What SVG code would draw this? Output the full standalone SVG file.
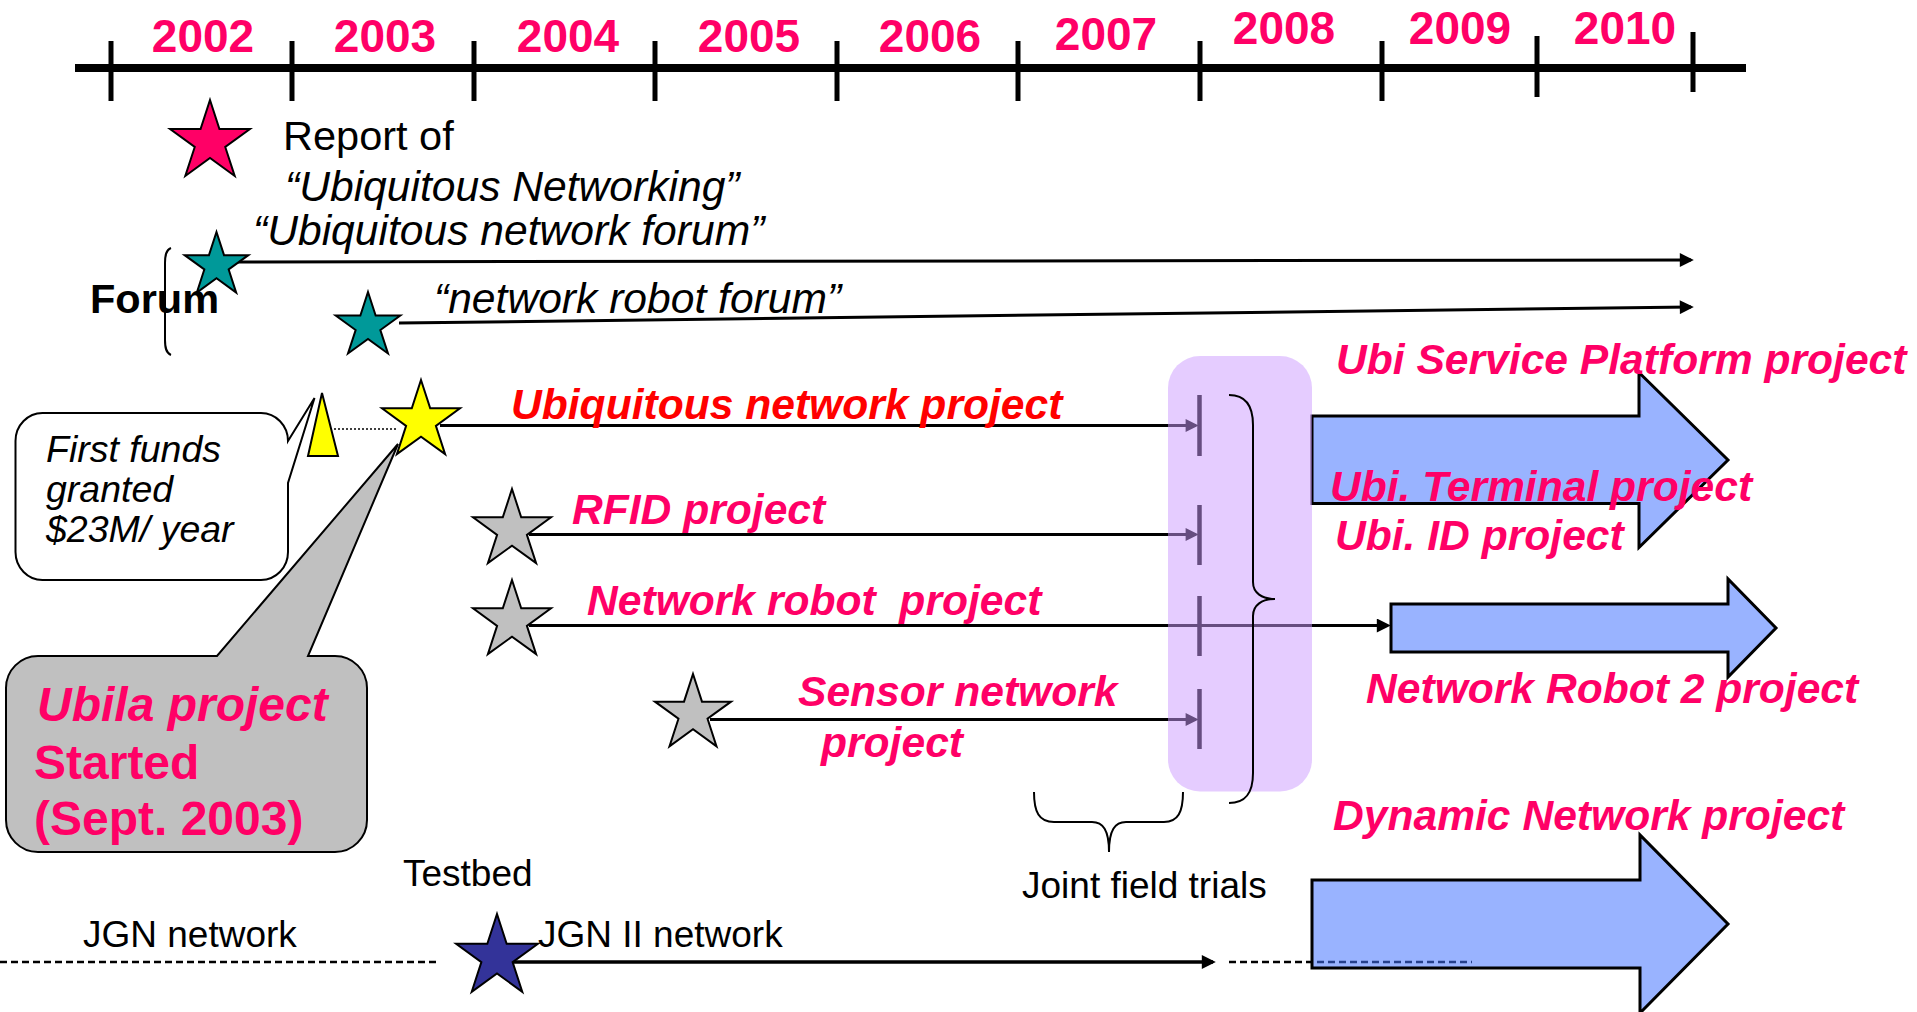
<svg xmlns="http://www.w3.org/2000/svg" width="1917" height="1012" viewBox="0 0 1917 1012">
<style>
.yr{font-family:"Liberation Sans",Arial,sans-serif;font-weight:bold;font-size:46px;fill:#FF0066;text-anchor:middle}
.blk{font-family:"Liberation Sans",Arial,sans-serif;font-size:37px;fill:#000}
.it{font-family:"Liberation Sans",Arial,sans-serif;font-style:italic;font-size:42.6px;fill:#000}
.pk{font-family:"Liberation Sans",Arial,sans-serif;font-style:italic;font-weight:bold;font-size:42.6px;fill:#FF0066}
.ub{font-family:"Liberation Sans",Arial,sans-serif;font-weight:bold;font-size:48px;fill:#FF0066}
.ln{stroke:#000;stroke-width:3;fill:none}
.tk{stroke:#000;stroke-width:5}
.st{stroke:#000;stroke-width:2}
.barrow{fill:rgb(69,116,255);fill-opacity:0.55;stroke:#000;stroke-width:3;stroke-linejoin:miter}
.brace{fill:none;stroke:#000;stroke-width:2}
</style>
<defs>
<path id="star" d="M0,-1 L0.2245,-0.309 L0.9511,-0.309 L0.3633,0.118 L0.5878,0.809 L0,0.382 L-0.5878,0.809 L-0.3633,0.118 L-0.9511,-0.309 L-0.2245,-0.309 Z" vector-effect="non-scaling-stroke"/>
<marker id="arr" viewBox="0 0 10 10" markerUnits="userSpaceOnUse" markerWidth="15" markerHeight="14" refX="8" refY="5" orient="auto">
<path d="M0,0 L10,5 L0,10 Z" fill="#000"/>
</marker>
<marker id="arrs" viewBox="0 0 10 10" markerUnits="userSpaceOnUse" markerWidth="15" markerHeight="13" refX="8" refY="5" orient="auto">
<path d="M0,0 L10,5 L0,10 Z" fill="#000"/>
</marker>
</defs>

<g id="timeline">
<line x1="75" y1="68" x2="1746" y2="68" stroke="#000" stroke-width="8"/>
<line class="tk" x1="111" y1="41" x2="111" y2="101"/>
<line class="tk" x1="292" y1="41" x2="292" y2="101"/>
<line class="tk" x1="474" y1="41" x2="474" y2="101"/>
<line class="tk" x1="655" y1="41" x2="655" y2="101"/>
<line class="tk" x1="837" y1="41" x2="837" y2="101"/>
<line class="tk" x1="1018" y1="41" x2="1018" y2="101"/>
<line class="tk" x1="1200" y1="41" x2="1200" y2="101"/>
<line class="tk" x1="1382" y1="41" x2="1382" y2="101"/>
<line class="tk" x1="1537" y1="36" x2="1537" y2="97"/>
<line class="tk" x1="1693" y1="32" x2="1693" y2="92"/>
<text class="yr" x="203" y="52">2002</text>
<text class="yr" x="385" y="52">2003</text>
<text class="yr" x="568" y="52">2004</text>
<text class="yr" x="749" y="52">2005</text>
<text class="yr" x="930" y="52">2006</text>
<text class="yr" x="1106" y="50">2007</text>
<text class="yr" x="1284" y="44">2008</text>
<text class="yr" x="1460" y="44">2009</text>
<text class="yr" x="1625" y="44">2010</text>
</g>

<g id="connectors">
<line class="ln" x1="232" y1="262" x2="1691" y2="260" marker-end="url(#arr)"/>
<line class="ln" x1="399" y1="323" x2="1691" y2="307" marker-end="url(#arr)"/>
<line x1="322" y1="429" x2="397" y2="429" stroke="#000" stroke-width="1.5" stroke-dasharray="2 2"/>
<line class="ln" x1="440" y1="425.5" x2="1196" y2="425.5" marker-end="url(#arrs)"/>
<line class="ln" x1="529" y1="534.5" x2="1196" y2="534.5" marker-end="url(#arrs)"/>
<line class="ln" x1="529" y1="625.5" x2="1388" y2="625.5" marker-end="url(#arr)"/>
<line class="ln" x1="710" y1="719.5" x2="1196" y2="719.5" marker-end="url(#arrs)"/>
<line x1="1199.5" y1="395" x2="1199.5" y2="456" stroke="#000" stroke-width="4.5"/>
<line x1="1199.5" y1="505" x2="1199.5" y2="565" stroke="#000" stroke-width="4.5"/>
<line x1="1199.5" y1="596" x2="1199.5" y2="656" stroke="#000" stroke-width="4.5"/>
<line x1="1199.5" y1="689" x2="1199.5" y2="749" stroke="#000" stroke-width="4.5"/>
<line x1="0" y1="962" x2="440" y2="962" stroke="#000" stroke-width="2.5" stroke-dasharray="7 4"/>
<line x1="489" y1="962" x2="1213" y2="962" stroke="#000" stroke-width="3.5" marker-end="url(#arr)"/>
<line x1="1229" y1="962" x2="1472" y2="962" stroke="#000" stroke-width="2.5" stroke-dasharray="7 4"/>
</g>

<g id="arrow-ubi-service">
<polygon class="barrow" points="1312,416 1639,416 1639,372.5 1728,460 1639,547.5 1639,503.5 1312,503.5"/>
</g>
<g id="arrow-network-robot-2">
<polygon class="barrow" points="1391,604 1728,604 1728,579 1776,628 1728,677 1728,652 1391,652"/>
</g>
<g id="arrow-dynamic-network">
<polygon class="barrow" points="1312,880 1640,880 1640,835 1728,924 1640,1013 1640,968 1312,968"/>
</g>

<g id="joint-field-trials">
<rect x="1168" y="356" width="144" height="435.5" rx="32" ry="32" fill="#CC99FF" fill-opacity="0.5"/>
<path class="brace" d="M1229,395 C1245,395 1253,405 1253,425 L1253,582 C1253,593 1262,599 1275,599 C1262,599 1253,605 1253,616 L1253,773 C1253,794 1245,803 1229,803"/>
<path class="brace" d="M1034,792 C1034,812 1039,822 1054,822 L1092,822 C1103,822 1109,830 1109,852 C1109,830 1115,822 1126,822 L1164,822 C1178,822 1183,812 1183,792"/>
<text class="blk" x="1022" y="898">Joint field trials</text>
</g>

<g id="forum-bracket">
<path class="brace" stroke-width="1.5" d="M171,248 C166,250 165,255 165,263 L165,340 C165,348 166,353 171,355"/>
<text x="90" y="313" font-family="Liberation Sans, Arial, sans-serif" font-weight="bold" font-size="41.5" fill="#000">Forum</text>
</g>

<g id="report">
<use href="#star" transform="translate(210 142) scale(42)" fill="#FF0066" class="st"/>
<text x="283" y="150" font-family="Liberation Sans, Arial, sans-serif" font-size="41.5" fill="#000">Report of</text>
<text class="it" x="285" y="201">“Ubiquitous Networking”</text>
</g>

<g id="ubi-forum">
<use href="#star" transform="translate(216.5 265.5) scale(33.5)" fill="#009999" class="st"/>
<text class="it" x="253" y="245">“Ubiquitous network forum”</text>
</g>

<g id="robot-forum">
<use href="#star" transform="translate(368 326) scale(34)" fill="#009999" class="st"/>
<text class="it" x="434" y="313">“network robot forum”</text>
</g>

<g id="first-funds">
<path d="M43,413 L261,413 A27,28 0 0 1 288,441 L314.5,398 L288,483 L288,552 A27,28 0 0 1 261,580 L43,580 A27,28 0 0 1 15.5,552 L15.5,441 A27,28 0 0 1 43,413 Z" fill="#fff" class="st"/>
<text font-family="Liberation Sans, Arial, sans-serif" font-style="italic" font-size="37.5" fill="#000"><tspan x="46" y="462">First funds</tspan><tspan x="46" y="502">granted</tspan><tspan x="46" y="542">$23M/ year</tspan></text>
<polygon points="322,393 308,456 338,456" fill="#FFFF00" class="st"/>
</g>

<g id="ubila">
<path d="M38,656 L217,656 L398,444 L308,656 L335,656 A32,32 0 0 1 367,688 L367,820 A32,32 0 0 1 335,852 L38,852 A32,32 0 0 1 6,820 L6,688 A32,32 0 0 1 38,656 Z" fill="#C0C0C0" class="st"/>
<text class="ub" font-style="italic" x="37" y="721">Ubila project</text>
<text class="ub" x="34" y="779">Started</text>
<text class="ub" x="34" y="835">(Sept. 2003)</text>
</g>

<g id="ubi-network-project">
<use href="#star" transform="translate(421 421) scale(41)" fill="#FFFF00" class="st"/>
<text class="pk" x="511" y="419" style="fill:#FF0000">Ubiquitous network project</text>
</g>

<g id="rfid-project">
<use href="#star" transform="translate(512 530) scale(41)" fill="#C0C0C0" class="st"/>
<text class="pk" x="572" y="524">RFID project</text>
</g>

<g id="network-robot-project">
<use href="#star" transform="translate(512 621) scale(41)" fill="#C0C0C0" class="st"/>
<text class="pk" x="587" y="615" xml:space="preserve" style="white-space:pre">Network robot  project</text>
</g>

<g id="sensor-network-project">
<use href="#star" transform="translate(693 714) scale(40)" fill="#C0C0C0" class="st"/>
<text class="pk" x="798" y="706">Sensor network</text>
<text class="pk" x="821" y="757">project</text>
</g>

<g id="jgn">
<text class="blk" x="83" y="947">JGN network</text>
<text class="blk" x="403" y="886">Testbed</text>
<use href="#star" transform="translate(497 957) scale(43)" fill="#333399" class="st"/>
<text class="blk" x="538" y="947">JGN II network</text>
</g>

<g id="labels-future">
<text class="pk" x="1336" y="374">Ubi Service Platform project</text>
<text class="pk" x="1330" y="501">Ubi. Terminal project</text>
<text class="pk" x="1335" y="550">Ubi. ID project</text>
<text class="pk" x="1366" y="703">Network Robot 2 project</text>
<text class="pk" x="1333" y="830">Dynamic Network project</text>
</g>
</svg>
